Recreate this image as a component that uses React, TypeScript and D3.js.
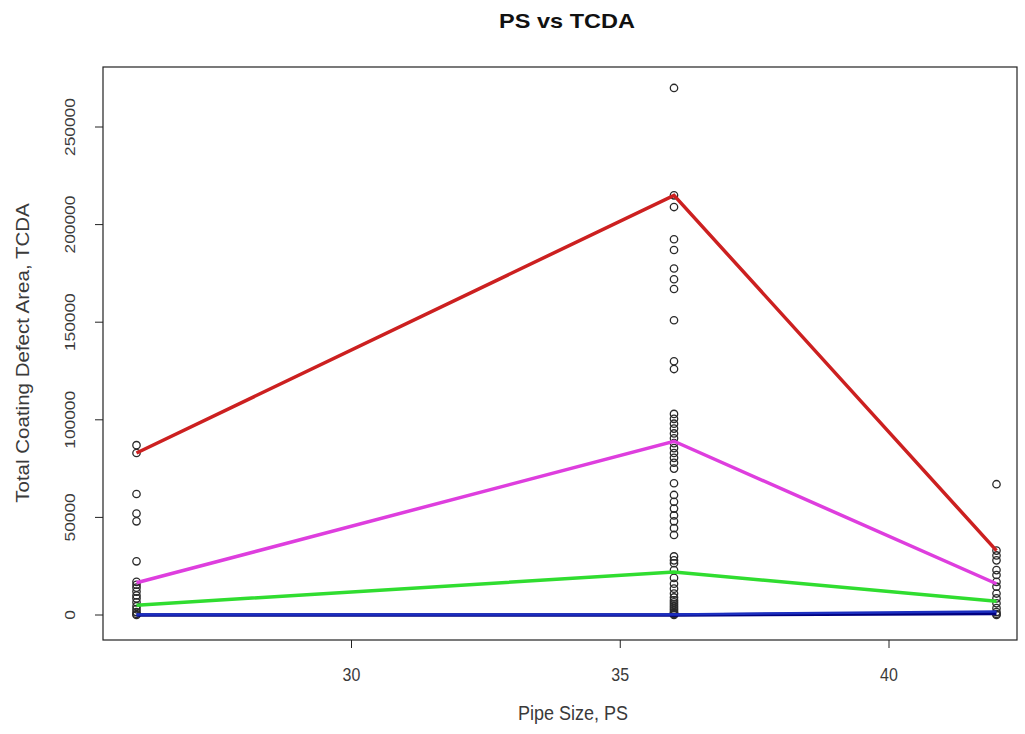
import React from "react";
import * as d3 from "d3";

const title = "PS vs TCDA";
const xLabel = "Pipe Size, PS";
const yLabel = "Total Coating Defect Area, TCDA";

const xTicks = [30, 35, 40];
const yTicks = [0, 50000, 100000, 150000, 200000, 250000];

const pts26 = [87000, 83000, 62000, 52000, 48000, 27500, 17000, 15500, 14000, 12000, 10000, 8500, 6500, 4500, 3000, 1500, 500, 0];
const pts36 = [
  270000, 215000, 209000, 192500, 187000, 177500, 172000, 167000, 151000,
  130000, 126000,
  103000, 100500, 98000, 95500, 93000, 90500, 88000, 85500, 83000, 80500, 78000, 75000,
  67500, 61500, 58000, 54500, 51000, 48000, 44500, 41000,
  30000, 28000, 26500, 23000, 19000, 16000, 13500, 11000,
  9000, 7500, 6500, 5500, 4500, 3500, 2500, 1500, 1000, 500, 0,
];
const pts42 = [67000, 33000, 30500, 28000, 23000, 20500, 17000, 14500, 11000, 8500, 6000, 3500, 1500, 500, 0];

const lineX = [26, 36, 42];
const redLine = [83000, 215000, 33000];
const magentaLine = [16500, 89000, 16000];
const greenLine = [5000, 22000, 7000];
const blueLine = [300, 300, 1800];
const navyLine = [0, 0, 800];

const W = 1025;
const H = 734;

export default function App() {
  const x = d3.scaleLinear().domain([26, 42]).range([136.5, 996.5]);
  const y = d3.scaleLinear().domain([0, 250000]).range([615, 127]);
  const box = { l: 103, r: 1017, t: 67, b: 640 };

  const line = d3
    .line<[number, number]>()
    .x((d) => x(d[0]))
    .y((d) => y(d[1]));
  const mk = (vals: number[]) => line(lineX.map((xv, i) => [xv, vals[i]] as [number, number])) || "";

  const points: [number, number][] = [
    ...pts26.map((v) => [26, v] as [number, number]),
    ...pts36.map((v) => [36, v] as [number, number]),
    ...pts42.map((v) => [42, v] as [number, number]),
  ];

  const font = "Liberation Sans, Arial, sans-serif";
  const txt = "#3a3a3a";
  const sy = 1.14;

  return (
    <svg width={W} height={H} style={{ position: "absolute", left: 0, top: 0, background: "#fff" }}>
      <rect x={0} y={0} width={W} height={H} fill="#fff" />
      <text
        transform={`translate(567,28) scale(1.12,1)`}
        textAnchor="middle"
        fontFamily={font}
        fontWeight="bold"
        fontSize={21}
        fill="#111"
      >
        {title}
      </text>
      <rect x={box.l} y={box.t} width={box.r - box.l} height={box.b - box.t} fill="none" stroke="#222" strokeWidth={1.2} />
      {/* x axis */}
      {xTicks.map((t) => (
        <g key={"xt" + t}>
          <line x1={x(t)} x2={x(t)} y1={box.b} y2={box.b + 8} stroke="#222" />
          <text
            transform={`translate(${x(t)},681) scale(1,${sy})`}
            textAnchor="middle"
            fontFamily={font}
            fontSize={16}
            fill={txt}
          >
            {t}
          </text>
        </g>
      ))}
      <text
        transform={`translate(573,720) scale(1,${sy})`}
        textAnchor="middle"
        fontFamily={font}
        fontSize={18}
        fill={txt}
      >
        {xLabel}
      </text>
      {/* y axis */}
      {yTicks.map((t) => (
        <g key={"yt" + t}>
          <line x1={box.l - 8} x2={box.l} y1={y(t)} y2={y(t)} stroke="#222" />
          <text
            transform={`translate(75,${y(t)}) rotate(-90) scale(${sy},1)`}
            textAnchor="middle"
            fontFamily={font}
            fontSize={15.2}
            fill={txt}
          >
            {t}
          </text>
        </g>
      ))}
      <text
        transform={`translate(29,353) rotate(-90) scale(${sy},1)`}
        textAnchor="middle"
        fontFamily={font}
        fontSize={18}
        fill={txt}
      >
        {yLabel}
      </text>
      {/* points */}
      {points.map((p, i) => (
        <circle key={"p" + i} cx={x(p[0])} cy={y(p[1])} r={3.7} fill="none" stroke="#2a2a2a" strokeWidth={1.3} />
      ))}
      {/* lines */}
      <path d={mk(navyLine)} fill="none" stroke="#000080" strokeWidth={3.5} />
      <path d={mk(blueLine)} fill="none" stroke="#1c2fc0" strokeWidth={2.5} />
      <path d={mk(greenLine)} fill="none" stroke="#30dd30" strokeWidth={3.5} />
      <path d={mk(magentaLine)} fill="none" stroke="#de3ede" strokeWidth={3.5} />
      <path d={mk(redLine)} fill="none" stroke="#cc2020" strokeWidth={3.5} />
    </svg>
  );
}
